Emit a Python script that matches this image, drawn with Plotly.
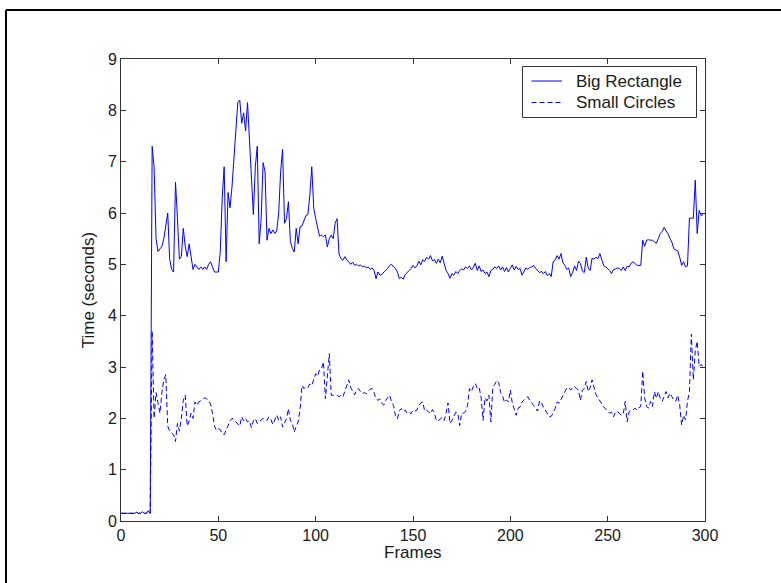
import plotly.graph_objects as go

frames = list(range(300))

big_rectangle = [
    0.15, 0.15, 0.15, 0.15, 0.16, 0.15, 0.15, 0.15, 0.17, 0.15,
    0.15, 0.18, 0.15, 0.15, 0.2, 0.15, 7.3, 6.9, 5.5, 5.25,
    5.3, 5.35, 5.5, 5.8, 6.0, 5.1, 4.9, 4.85, 6.6, 5.9,
    5.1, 5.15, 5.7, 5.35, 5.15, 5.4, 5.1, 4.9, 5.0, 4.95,
    4.9, 4.95, 4.9, 4.95, 4.9, 5.0, 5.05, 4.95, 4.85, 4.85,
    4.85, 5.25, 6.3, 6.9, 5.05, 6.4, 6.1, 6.5, 7.0, 7.6,
    8.15, 8.2, 7.75, 7.95, 7.6, 8.15, 7.4, 6.5, 5.97, 6.9,
    7.3, 5.4, 5.9, 6.98, 6.8, 5.47, 5.7, 5.6, 5.67, 5.6,
    5.65, 6.0, 6.8, 7.24, 5.8, 5.89, 6.22, 5.45, 5.31, 5.24,
    5.7, 5.4, 5.73, 5.75, 5.85, 5.95, 5.97, 6.35, 6.9, 6.1,
    5.89, 5.7, 5.55, 5.57, 5.54, 5.57, 5.34, 5.5, 5.57, 5.5,
    5.8, 5.89, 5.2, 5.11, 5.08, 5.15, 5.08, 5.05, 5.0, 5.04,
    4.98, 5.0, 4.97, 4.99, 4.95, 4.97, 4.93, 4.95, 4.9, 4.93,
    4.88, 4.72, 4.85, 4.79, 4.8, 4.85, 4.88, 4.92, 4.98, 5.0,
    4.95, 4.92, 4.85, 4.72, 4.75, 4.71, 4.8, 4.85, 4.88, 4.92,
    4.98, 4.93, 4.97, 5.06, 4.99, 5.09, 5.06, 5.14, 5.10, 5.17,
    5.07, 5.09, 5.02, 5.10, 5.03, 5.16, 5.0, 4.88, 4.82, 4.73,
    4.82, 4.79, 4.86, 4.82, 4.88, 4.91, 4.89, 4.95, 4.92, 4.97,
    4.89, 4.94, 5.02, 4.88, 4.97, 4.86, 4.89, 4.82, 4.85, 4.76,
    4.88, 4.90, 4.95, 4.92, 4.97, 4.89, 4.95, 4.86, 4.94, 4.85,
    4.92, 4.99, 4.89, 4.96, 4.90, 4.92, 4.79, 4.86, 4.93, 4.90,
    4.94, 4.95, 4.98, 4.92, 4.87, 4.84, 4.86, 4.82, 4.86, 4.78,
    4.82, 4.76, 5.05, 5.08, 5.17, 5.1, 5.21, 5.03, 4.98, 4.9,
    4.93, 4.76, 4.84, 4.97, 4.88, 5.06, 5.02, 4.87, 4.84, 5.14,
    4.93, 4.88, 5.12, 5.1, 5.14, 5.11, 5.21, 5.08, 4.97, 4.95,
    4.92, 4.88, 4.82, 4.9, 4.91, 4.93, 4.92, 4.88, 4.95, 4.88,
    4.96, 4.95, 5.02, 5.05, 5.02, 4.98, 4.98, 4.98, 5.47, 5.35,
    5.47, 5.48, 5.47, 5.47, 5.44, 5.41, 5.5, 5.6, 5.64, 5.72,
    5.65, 5.6, 5.5, 5.43, 5.3, 5.28, 5.26, 5.14, 4.98, 5.05,
    4.95, 4.97, 5.9, 5.9, 5.9, 6.64, 5.6, 6.05, 5.95, 5.97,
]

small_circles = [
    0.15, 0.15, 0.15, 0.15, 0.16, 0.15, 0.15, 0.15, 0.17, 0.15,
    0.15, 0.18, 0.15, 0.15, 0.2, 0.15, 3.7, 2.0, 2.5, 2.3,
    2.1, 2.5, 2.75, 2.85, 1.85, 1.75, 1.72, 1.68, 1.55, 1.9,
    1.75, 2.0, 2.35, 2.45, 1.85, 1.95, 2.1, 2.0, 2.32, 2.25,
    2.32, 2.35, 2.38, 2.4, 2.38, 2.32, 2.28, 2.1, 1.85, 1.77,
    1.8, 1.78, 1.7, 1.68, 1.78, 1.88, 1.95, 2.0, 1.98, 1.93,
    1.88, 1.85, 2.03, 1.95, 2.0, 1.93, 1.95, 1.82, 1.95, 2.0,
    1.9, 1.92, 1.97, 2.0, 1.99, 1.96, 2.03, 1.98, 1.88, 1.99,
    2.06, 1.96, 2.03, 1.83, 1.93, 1.99, 2.19, 1.96, 1.9, 1.73,
    1.85, 1.93, 2.19, 2.64, 2.58, 2.62, 2.6, 2.67, 2.64, 2.77,
    2.87, 2.82, 2.95, 2.97, 3.1, 2.38, 2.9, 3.26, 2.45, 2.45,
    2.45, 2.45, 2.42, 2.45, 2.42, 2.53, 2.65, 2.75, 2.6, 2.53,
    2.46, 2.55, 2.58, 2.52, 2.48, 2.5, 2.48, 2.53, 2.57, 2.58,
    2.5, 2.38, 2.35, 2.38, 2.29, 2.26, 2.35, 2.4, 2.45, 2.32,
    2.25, 2.05, 1.99, 2.15, 2.19, 2.13, 2.16, 2.1, 2.12, 2.09,
    2.16, 2.14, 2.16, 2.25, 2.3, 2.32, 2.14, 2.16, 2.12, 2.09,
    2.17, 2.1, 1.96, 1.95, 1.99, 2.02, 1.96, 2.1, 2.3, 1.9,
    1.96, 2.06, 2.12, 2.1, 1.86, 2.1, 2.1, 2.14, 2.25, 2.58,
    2.52, 2.62, 2.68, 2.58, 2.6, 2.4, 1.96, 2.4, 2.34, 2.45,
    1.93, 2.61, 2.66, 2.74, 2.7, 2.5, 2.44, 2.31, 2.36, 2.32,
    2.55, 2.3, 2.18, 2.06, 2.2, 2.22, 2.32, 2.35, 2.4, 2.42,
    2.35, 2.29, 2.25, 2.2, 2.14, 2.34, 2.3, 2.22, 2.16, 2.1,
    2.03, 2.04, 2.1, 2.19, 2.32, 2.29, 2.36, 2.45, 2.52, 2.59,
    2.6, 2.55, 2.6, 2.62, 2.58, 2.55, 2.35, 2.55, 2.58, 2.72,
    2.52, 2.6, 2.75, 2.6, 2.46, 2.4, 2.33, 2.26, 2.22, 2.18,
    2.13, 2.1, 2.12, 2.03, 2.12, 2.13, 2.1, 2.06, 2.08, 2.33,
    1.93, 2.13, 2.16, 2.16, 2.2, 2.16, 2.2, 2.23, 2.92, 2.4,
    2.23, 2.2, 2.33, 2.23, 2.52, 2.39, 2.52, 2.39, 2.33, 2.42,
    2.52, 2.4, 2.49, 2.42, 2.36, 2.33, 2.45, 2.26, 1.87, 2.06,
    1.97, 2.33, 2.52, 3.64, 2.75, 3.31, 3.5, 3.01, 3.05, 3.0,
]

series_names = ["Big Rectangle", "Small Circles"]
x_ticks = [0, 50, 100, 150, 200, 250, 300]
y_ticks = [0, 1, 2, 3, 4, 5, 6, 7, 8, 9]
x_title = "Frames"
y_title = "Time (seconds)"

BLUE = "#0000ff"
AXC = "#333333"
TXT = "#1a1a1a"
FONT = "Liberation Sans, Arial, sans-serif"
DASH = "5px,3px"

fig = go.Figure()
fig.add_trace(go.Scatter(x=frames, y=big_rectangle, mode="lines", name=series_names[0],
                         showlegend=False, line=dict(color=BLUE, width=1)))
fig.add_trace(go.Scatter(x=frames, y=small_circles, mode="lines", name=series_names[1],
                         showlegend=False, line=dict(color=BLUE, width=1, dash=DASH)))

L, R, T, B = 121, 76, 59, 62
W, H = 781, 583
pw, ph = W - L - R, H - T - B

def px_x(p):
    return (p - L) / pw

def px_y(p):
    return (H - B - p) / ph

# outer picture frame (left and top edges)
fig.add_shape(type="line", xref="paper", yref="paper",
              x0=px_x(6), x1=px_x(W + 5), y0=px_y(10), y1=px_y(10),
              line=dict(color="black", width=2))
fig.add_shape(type="line", xref="paper", yref="paper",
              x0=px_x(6), x1=px_x(6), y0=px_y(10), y1=px_y(H + 5),
              line=dict(color="black", width=2))

# legend box, drawn by hand to match the original proportions
fig.add_shape(type="rect", xref="paper", yref="paper",
              x0=px_x(522.5), x1=px_x(696.5), y0=px_y(117.5), y1=px_y(66.5),
              line=dict(color=AXC, width=1), fillcolor="white", layer="above")
legend_rows = [(81, "solid"), (102.5, DASH)]
for (ry, dash), name in zip(legend_rows, series_names):
    fig.add_shape(type="line", xref="paper", yref="paper",
                  x0=px_x(531.5), x1=px_x(562), y0=px_y(ry), y1=px_y(ry),
                  line=dict(color=BLUE, width=1, dash=dash), layer="above")
    fig.add_annotation(xref="paper", yref="paper", x=px_x(574), y=px_y(ry),
                       xanchor="left", yanchor="middle", showarrow=False,
                       text=name, font=dict(family=FONT, size=17, color=TXT))

# x-axis title
fig.add_annotation(xref="paper", yref="paper", x=0.5, y=px_y(552),
                   xanchor="center", yanchor="middle", showarrow=False,
                   text=x_title, font=dict(family=FONT, size=17, color=TXT))

fig.update_layout(
    width=W, height=H,
    margin=dict(l=L, r=R, t=T, b=B, pad=0),
    paper_bgcolor="white", plot_bgcolor="white",
    font=dict(family=FONT, size=16, color=TXT),
    showlegend=False,
    xaxis=dict(range=[0, 300], tickvals=x_ticks, ticktext=[str(v) for v in x_ticks],
               showgrid=False, zeroline=False, showline=True, linecolor=AXC, linewidth=1,
               mirror="ticks", ticks="inside", ticklen=5, tickcolor=AXC,
               tickfont=dict(family=FONT, size=16, color=TXT)),
    yaxis=dict(range=[0, 9], tickvals=y_ticks, ticktext=[str(v) for v in y_ticks],
               showgrid=False, zeroline=False, showline=True, linecolor=AXC, linewidth=1,
               mirror="ticks", ticks="inside", ticklen=5, tickcolor=AXC,
               tickfont=dict(family=FONT, size=16, color=TXT),
               title=dict(text=y_title, font=dict(family=FONT, size=17, color=TXT), standoff=8)),
)

fig.write_html("out.html")
